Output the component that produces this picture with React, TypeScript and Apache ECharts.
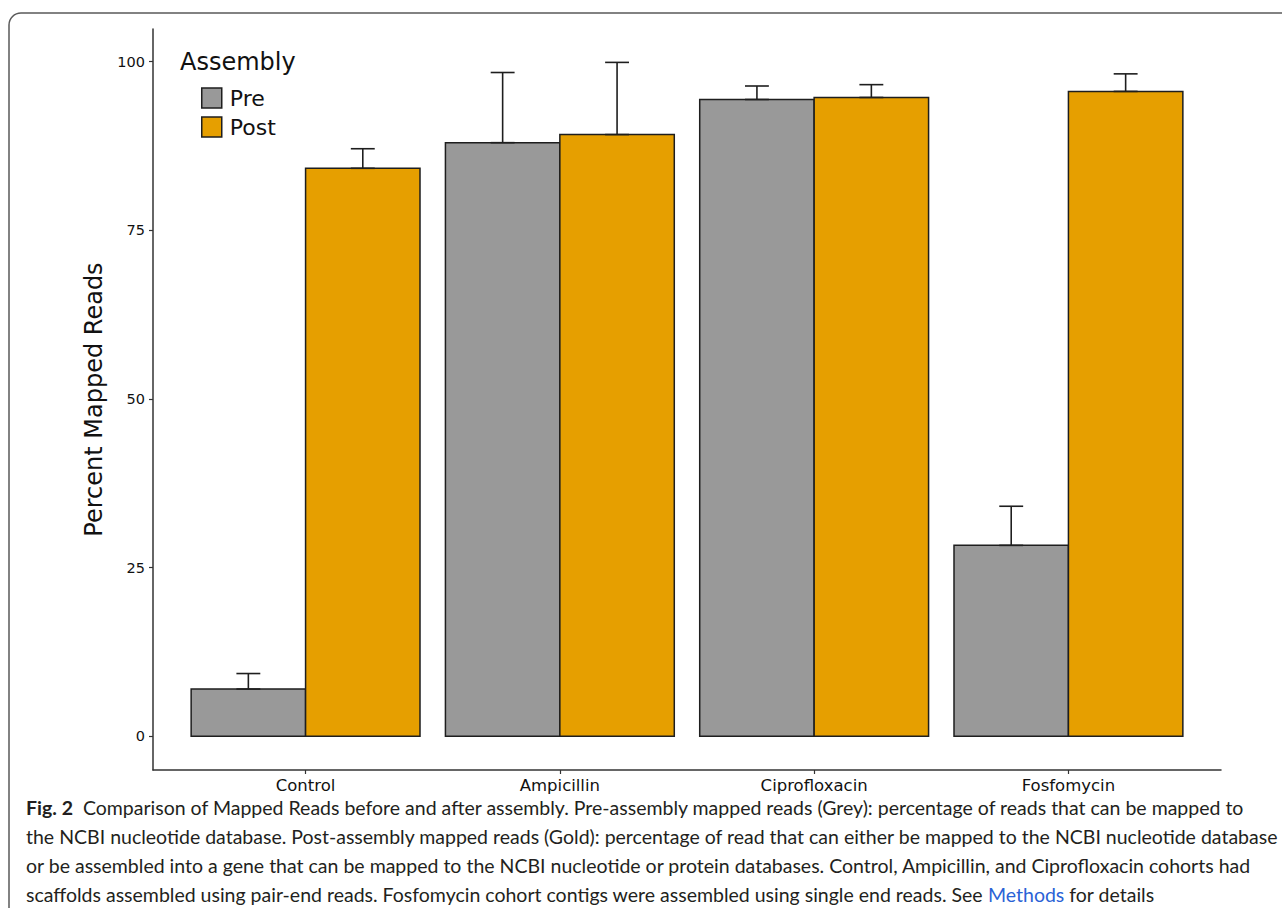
import React, { useEffect, useRef } from "react";
import * as echarts from "echarts";

const categories = ["Control", "Ampicillin", "Ciprofloxacin", "Fosfomycin"];
const preMean = [7.0, 88.0, 94.4, 28.3];
const preUpper = [9.3, 98.4, 96.4, 34.1];
const postMean = [84.2, 89.2, 94.7, 95.6];
const postUpper = [87.1, 99.9, 96.6, 98.2];
const yTicks = [0, 25, 50, 75, 100];

const captionLines = [
  "{b|Fig. 2}  Comparison of Mapped Reads before and after assembly. Pre-assembly mapped reads (Grey): percentage of reads that can be mapped to",
  "the NCBI nucleotide database. Post-assembly mapped reads (Gold): percentage of read that can either be mapped to the NCBI nucleotide database",
  "or be assembled into a gene that can be mapped to the NCBI nucleotide or protein databases. Control, Ampicillin, and Ciprofloxacin cohorts had",
  "scaffolds assembled using pair-end reads. Fosfomycin cohort contigs were assembled using single end reads. See {m|Methods} for details",
];

const GREY = "#999999";
const GOLD = "#E69F00";
const EDGE = "#1e1e1e";
const AXF = "DejaVu Sans";
const CAPF = "Lato";
const CAPS = 19.5;

export default function App() {
  const ref = useRef<HTMLDivElement>(null);
  useEffect(() => {
    document.body.style.margin = "0";
    const chart = echarts.init(ref.current!, null, { renderer: "svg" });
    const half = 0.225;
    const cap = 0.047;
    const makeRender = (offset: number) => (params: any, api: any) => {
      const x = api.value(0) + offset;
      const y = api.value(1);
      const e = api.value(2);
      const tl = api.coord([x - half, y]);
      const br = api.coord([x + half, 0]);
      const c = api.coord([x, y]);
      const t = api.coord([x, e]);
      const cl = api.coord([x - cap, e]);
      const cr = api.coord([x + cap, e]);
      const bl = api.coord([x - cap, y]);
      const brr = api.coord([x + cap, y]);
      const ls = { stroke: EDGE, lineWidth: 1.6 };
      return {
        type: "group",
        children: [
          {
            type: "rect",
            shape: { x: tl[0], y: tl[1], width: br[0] - tl[0], height: br[1] - tl[1] },
            style: { fill: api.visual("color"), stroke: EDGE, lineWidth: 1.5 },
          },
          { type: "line", shape: { x1: c[0], y1: c[1], x2: t[0], y2: t[1] }, style: ls },
          { type: "line", shape: { x1: cl[0], y1: cl[1], x2: cr[0], y2: cr[1] }, style: ls },
          { type: "line", shape: { x1: bl[0], y1: bl[1], x2: brr[0], y2: brr[1] }, style: ls },
        ],
      };
    };
    const preData = categories.map((_, i) => [i + 1, preMean[i], preUpper[i]]);
    const postData = categories.map((_, i) => [i + 1, postMean[i], postUpper[i]]);

    const captionGraphics = captionLines.map((line, i) => ({
      type: "text",
      x: 26,
      y: 807 + i * 29,
      style: {
        text: line,
        fill: "#231f20",
        fontFamily: CAPF,
        fontSize: CAPS,
        verticalAlign: "middle",
        rich: {
          b: { fontWeight: "bold", fontFamily: CAPF, fontSize: CAPS, fill: "#231f20" },
          m: { fontFamily: CAPF, fontSize: CAPS, fill: "#2a62d6" },
        },
      },
    }));

    chart.setOption({
      animation: false,
      backgroundColor: "#ffffff",
      grid: { left: 153, right: 61, top: 29, bottom: 138 },
      xAxis: {
        type: "value",
        min: 0.4,
        max: 4.6,
        splitLine: { show: false },
        axisLine: { show: true, onZero: false, lineStyle: { color: "#333", width: 1.5 } },
        axisTick: { show: true, length: 4, customValues: [1, 2, 3, 4], lineStyle: { color: "#333", width: 1.2 } },
        axisLabel: {
          customValues: [1, 2, 3, 4],
          formatter: (v: number) => categories[Math.round(v) - 1] ?? "",
          color: "#111",
          fontFamily: AXF,
          fontSize: 16.5,
          margin: 7,
        },
      },
      yAxis: {
        type: "value",
        min: -5,
        max: 104.85,
        name: "Percent Mapped Reads",
        nameLocation: "middle",
        nameGap: 45,
        nameTextStyle: { fontFamily: AXF, fontSize: 24, color: "#111" },
        splitLine: { show: false },
        axisLine: { show: true, onZero: false, lineStyle: { color: "#333", width: 1.5 } },
        axisTick: { show: true, length: 4, customValues: yTicks, lineStyle: { color: "#333", width: 1.2 } },
        axisLabel: {
          customValues: yTicks,
          color: "#111",
          fontFamily: AXF,
          fontSize: 14.5,
          margin: 8,
        },
      },
      legend: {
        orient: "vertical",
        left: 201,
        top: 87,
        padding: 0,
        itemWidth: 20,
        itemHeight: 20,
        itemGap: 7,
        selectedMode: false,
        textStyle: { fontFamily: AXF, fontSize: 22, color: "#111", padding: [0, 0, 0, 3] },
        data: [
          { name: "Pre", icon: "rect", itemStyle: { color: GREY, borderColor: EDGE, borderWidth: 1.5 } },
          { name: "Post", icon: "rect", itemStyle: { color: GOLD, borderColor: EDGE, borderWidth: 1.5 } },
        ],
      },
      graphic: [
        {
          type: "rect",
          shape: { x: 9, y: 13, width: 1400, height: 1100, r: 12 },
          style: { fill: "none", stroke: "#5a5a5a", lineWidth: 1.5 },
          silent: true,
        },
        {
          type: "text",
          x: 180,
          y: 62,
          style: { text: "Assembly", fontFamily: AXF, fontSize: 24, fill: "#111", verticalAlign: "middle" },
        },
        ...captionGraphics,
      ],
      series: [
        {
          name: "Pre",
          type: "custom",
          itemStyle: { color: GREY },
          renderItem: makeRender(-0.225),
          encode: { x: 0, y: [1, 2] },
          data: preData,
        },
        {
          name: "Post",
          type: "custom",
          itemStyle: { color: GOLD },
          renderItem: makeRender(0.225),
          encode: { x: 0, y: [1, 2] },
          data: postData,
        },
      ],
    });
    return () => chart.dispose();
  }, []);
  return <div ref={ref} style={{ width: 1282, height: 908 }} />;
}
